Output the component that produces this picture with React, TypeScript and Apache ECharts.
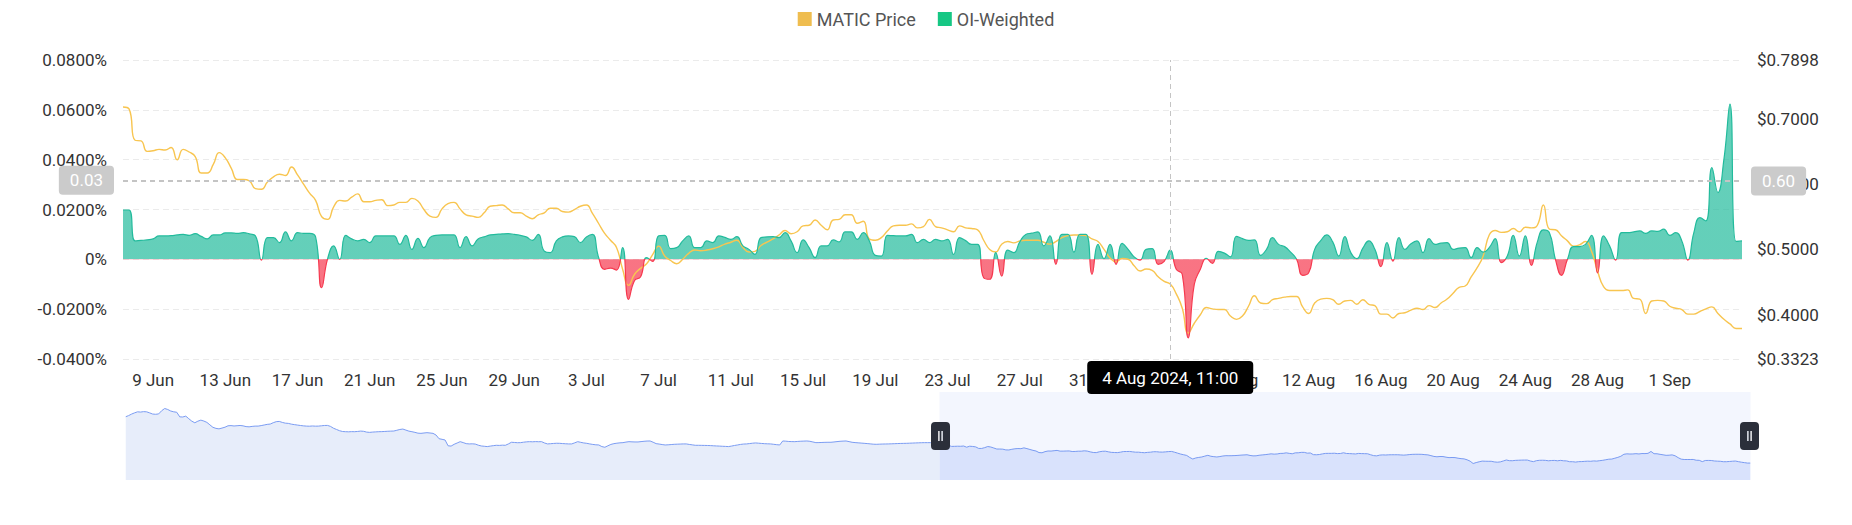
import { useEffect, useRef } from 'react';
import * as echarts from 'echarts';

// 8-hour buckets, first bucket 9 Mar 2024 11:00
const START_TIME = Date.UTC(2024, 2, 9, 11);
const STEP_MS = 8 * 3600 * 1000;
const MONTHS = ['Jan', 'Feb', 'Mar', 'Apr', 'May', 'Jun', 'Jul', 'Aug', 'Sep', 'Oct', 'Nov', 'Dec'];

// price before the zoom window (only visible in the slider)
const EARLY_PRICE = [
  1.131, 1.150, 1.175, 1.195, 1.212, 1.208, 1.215, 1.212, 1.195, 1.176,
  1.172, 1.178, 1.230, 1.266, 1.250, 1.225, 1.212, 1.205, 1.130, 1.128,
  1.142, 1.100, 1.060, 1.034, 1.060, 1.077, 1.062, 1.040, 1.000, 0.960,
  0.943, 0.935, 0.948, 0.962, 0.985, 0.988, 0.982, 0.986, 0.990, 0.984,
  0.972, 0.968, 0.975, 0.980, 0.980, 0.988, 0.998, 1.008, 1.013, 1.035,
  1.052, 1.056, 1.040, 1.028, 1.024, 1.012, 1.004, 0.997, 0.990, 0.984,
  0.980, 0.978, 0.982, 0.979, 0.980, 0.985, 0.990, 0.991, 0.975, 0.945,
  0.925, 0.905, 0.892, 0.889, 0.887, 0.890, 0.889, 0.893, 0.899, 0.895,
  0.882, 0.878, 0.883, 0.886, 0.889, 0.890, 0.893, 0.896, 0.898, 0.900,
  0.912, 0.925, 0.932, 0.915, 0.898, 0.889, 0.878, 0.865, 0.862, 0.868,
  0.873, 0.868, 0.862, 0.835, 0.775, 0.765, 0.754, 0.660, 0.655, 0.684,
  0.705, 0.727, 0.712, 0.695, 0.690, 0.692, 0.688, 0.670, 0.657, 0.652,
  0.647, 0.655, 0.662, 0.668, 0.666, 0.670, 0.668, 0.690, 0.717, 0.714,
  0.710, 0.711, 0.718, 0.724, 0.727, 0.725, 0.728, 0.726, 0.727, 0.705,
  0.690, 0.694, 0.698, 0.701, 0.700, 0.696, 0.693, 0.690, 0.690, 0.708,
  0.727, 0.716, 0.706, 0.700, 0.690, 0.682, 0.676, 0.673, 0.647, 0.636,
  0.660, 0.682, 0.695, 0.702, 0.708, 0.711, 0.720, 0.727, 0.724, 0.722,
  0.722, 0.728, 0.733, 0.737, 0.738, 0.718, 0.695, 0.688, 0.680, 0.673,
  0.676, 0.680, 0.684, 0.686, 0.688, 0.690, 0.690, 0.682, 0.675, 0.668,
  0.668, 0.667, 0.666, 0.665, 0.663, 0.660, 0.657, 0.655, 0.652, 0.650,
  0.647, 0.655, 0.665, 0.673, 0.682, 0.688, 0.690, 0.696, 0.702, 0.706,
  0.702, 0.698, 0.694, 0.692, 0.690, 0.684, 0.678, 0.673, 0.738, 0.735,
  0.730, 0.728, 0.727, 0.731, 0.734, 0.736, 0.738, 0.733, 0.722, 0.711,
  0.712, 0.714, 0.716, 0.717, 0.717, 0.722, 0.728, 0.733, 0.736, 0.738,
  0.728, 0.717, 0.712, 0.708, 0.704, 0.700, 0.696, 0.691, 0.686, 0.684,
  0.686, 0.688, 0.689, 0.690, 0.692, 0.694, 0.696, 0.698, 0.699, 0.700,
  0.702, 0.704, 0.706, 0.708, 0.710, 0.711, 0.711, 0.711, 0.713, 0.716,
];

// 7 Jun 11:00 -> 5 Sep 03:00
const PRICE = [
  0.718, 0.715, 0.667, 0.666, 0.650, 0.651, 0.653, 0.652, 0.656, 0.637,
  0.653, 0.649, 0.642, 0.617, 0.617, 0.630, 0.648, 0.640, 0.624, 0.607,
  0.607, 0.605, 0.593, 0.592, 0.603, 0.611, 0.615, 0.613, 0.626, 0.614,
  0.600, 0.586, 0.575, 0.550, 0.546, 0.565, 0.575, 0.574, 0.580, 0.585,
  0.573, 0.573, 0.575, 0.576, 0.567, 0.568, 0.572, 0.572, 0.578, 0.574,
  0.561, 0.551, 0.549, 0.562, 0.570, 0.572, 0.562, 0.553, 0.551, 0.549,
  0.556, 0.566, 0.567, 0.568, 0.562, 0.556, 0.556, 0.551, 0.547, 0.553,
  0.556, 0.563, 0.563, 0.558, 0.557, 0.561, 0.566, 0.568, 0.555, 0.540,
  0.525, 0.514, 0.503, 0.470, 0.445, 0.462, 0.471, 0.478, 0.492, 0.505,
  0.490, 0.483, 0.478, 0.485, 0.494, 0.499, 0.498, 0.499, 0.501, 0.504,
  0.508, 0.511, 0.514, 0.503, 0.496, 0.497, 0.506, 0.511, 0.516, 0.522,
  0.529, 0.524, 0.527, 0.536, 0.537, 0.545, 0.537, 0.530, 0.545, 0.546,
  0.553, 0.553, 0.540, 0.543, 0.516, 0.514, 0.518, 0.528, 0.536, 0.537,
  0.537, 0.539, 0.533, 0.535, 0.546, 0.535, 0.533, 0.530, 0.527, 0.536,
  0.533, 0.532, 0.530, 0.514, 0.500, 0.496, 0.508, 0.512, 0.510, 0.513,
  0.514, 0.514, 0.514, 0.511, 0.508, 0.512, 0.518, 0.521, 0.522, 0.522,
  0.521, 0.516, 0.512, 0.500, 0.487, 0.481, 0.486, 0.485, 0.475, 0.467,
  0.470, 0.468, 0.458, 0.451, 0.447, 0.432, 0.410, 0.372, 0.387, 0.400,
  0.411, 0.409, 0.408, 0.408, 0.398, 0.393, 0.398, 0.413, 0.429, 0.418,
  0.417, 0.423, 0.425, 0.427, 0.428, 0.428, 0.412, 0.402, 0.418, 0.424,
  0.425, 0.423, 0.416, 0.421, 0.422, 0.416, 0.423, 0.416, 0.414, 0.401,
  0.401, 0.395, 0.402, 0.403, 0.407, 0.410, 0.408, 0.414, 0.411, 0.418,
  0.424, 0.433, 0.442, 0.444, 0.458, 0.472, 0.490, 0.522, 0.529, 0.526,
  0.527, 0.532, 0.527, 0.534, 0.533, 0.537, 0.568, 0.531, 0.530, 0.521,
  0.513, 0.505, 0.507, 0.512, 0.497, 0.467, 0.443, 0.437, 0.437, 0.437,
  0.438, 0.425, 0.424, 0.402, 0.421, 0.422, 0.421, 0.413, 0.410, 0.408,
  0.401, 0.401, 0.405, 0.409, 0.412, 0.402, 0.393, 0.386, 0.379, 0.379,
];

// OI-weighted funding rate (%), same buckets as PRICE
const OI_WEIGHTED = [
  0.0198, 0.0198, 0.0074, 0.0076, 0.0078, 0.0082, 0.0094, 0.0094, 0.0095, 0.0098,
  0.0100, 0.0096, 0.0103, 0.0092, 0.0082, 0.0098, 0.0098, 0.0106, 0.0106, 0.0104,
  0.0107, 0.0102, 0.0094, -0.0003, 0.0087, 0.0087, 0.0067, 0.0110, 0.0074, 0.0107,
  0.0104, 0.0104, 0.0090, -0.0114, 0.0003, 0.0054, 0.0000, 0.0096, 0.0082, 0.0074,
  0.0080, 0.0067, 0.0094, 0.0094, 0.0094, 0.0094, 0.0060, 0.0096, 0.0040, 0.0084,
  0.0047, 0.0087, 0.0096, 0.0098, 0.0098, 0.0098, 0.0047, 0.0091, 0.0054, 0.0082,
  0.0090, 0.0098, 0.0100, 0.0102, 0.0103, 0.0100, 0.0096, 0.0090, 0.0076, 0.0100,
  0.0033, 0.0027, 0.0074, 0.0090, 0.0094, 0.0091, 0.0067, 0.0090, 0.0100, 0.0010,
  -0.0040, -0.0035, -0.0043, 0.0047, -0.0161, -0.0085, -0.0070, 0.0007, -0.0008, 0.0094,
  0.0096, 0.0043, 0.0047, 0.0074, 0.0094, 0.0047, 0.0047, 0.0074, 0.0067, 0.0094,
  0.0088, 0.0080, 0.0091, 0.0054, 0.0040, 0.0020, 0.0087, 0.0090, 0.0091, 0.0087,
  0.0107, 0.0074, 0.0027, 0.0078, 0.0047, 0.0007, 0.0054, 0.0054, 0.0078, 0.0070,
  0.0110, 0.0110, 0.0080, 0.0107, 0.0074, 0.0016, 0.0013, 0.0096, 0.0095, 0.0094,
  0.0094, 0.0100, 0.0067, 0.0080, 0.0067, 0.0080, 0.0074, 0.0080, 0.0020, 0.0087,
  0.0075, 0.0060, 0.0060, -0.0074, -0.0080, 0.0027, -0.0067, 0.0037, 0.0027, 0.0070,
  0.0100, 0.0105, 0.0110, 0.0054, 0.0094, -0.0020, 0.0100, 0.0100, 0.0029, 0.0100,
  0.0100, -0.0060, 0.0060, 0.0003, 0.0060, -0.0020, 0.0064, 0.0040, 0.0010, -0.0003,
  0.0040, 0.0043, -0.0020, -0.0008, 0.0037, -0.0040, -0.0060, -0.0315, -0.0100, -0.0040,
  0.0004, -0.0016, 0.0032, 0.0025, 0.0010, 0.0092, 0.0083, 0.0076, 0.0078, 0.0016,
  0.0040, 0.0087, 0.0060, 0.0051, 0.0029, 0.0000, -0.0064, -0.0054, 0.0040, 0.0075,
  0.0098, 0.0070, 0.0013, 0.0091, 0.0027, 0.0003, 0.0045, 0.0074, 0.0040, -0.0029,
  0.0067, -0.0007, 0.0087, 0.0040, 0.0063, 0.0074, 0.0027, 0.0083, 0.0060, 0.0065,
  0.0067, 0.0040, 0.0045, 0.0047, 0.0007, 0.0047, 0.0029, 0.0047, 0.0083, -0.0013,
  0.0013, 0.0096, 0.0013, 0.0094, -0.0024, 0.0070, 0.0118, 0.0107, 0.0000, -0.0064,
  0.0000, 0.0051, 0.0051, 0.0060, 0.0096, -0.0054, 0.0094, 0.0054, -0.0003, 0.0107,
  0.0107, 0.0110, 0.0114, 0.0104, 0.0114, 0.0112, 0.0121, 0.0096, 0.0107, 0.0074,
  -0.0003, 0.0107, 0.0167, 0.0154, 0.0368, 0.0268, 0.0402, 0.0623, 0.0072, 0.0074,
];

// crosshair shown in the screenshot: 4 Aug 2024, 11:00
const POINTER_OFFSET = 174;
const POINTER_RATE = 0.0317;
const POINTER_PRICE = 0.6047;

const priceAll = EARLY_PRICE.concat(PRICE);
const times = priceAll.map((_, i) => START_TIME + i * STEP_MS);
const categories = times.map((t) => String(t));
const fundingData = OI_WEIGHTED.map((v, k) => [EARLY_PRICE.length + k, v]);

const pad = (n: number) => (n < 10 ? '0' + n : String(n));
const fmtDay = (t: number) => {
  const d = new Date(t);
  return `${d.getUTCDate()} ${MONTHS[d.getUTCMonth()]}`;
};
const fmtFull = (t: number) => {
  const d = new Date(t);
  return `${d.getUTCDate()} ${MONTHS[d.getUTCMonth()]} ${d.getUTCFullYear()}, ${pad(d.getUTCHours())}:${pad(d.getUTCMinutes())}`;
};

const HANDLE =
  'path://M4,0 H15 A4,4 0 0 1 19,4 V24 A4,4 0 0 1 15,28 H4 A4,4 0 0 1 0,24 V4 A4,4 0 0 1 4,0 Z M7.2,9 V19 H8.6 V9 Z M10.4,9 V19 H11.8 V9 Z';

const FONT = 'Roboto, sans-serif';

export default function App() {
  const chartRef = useRef<HTMLDivElement>(null);

  useEffect(() => {
    document.body.style.margin = '0';
    if (!chartRef.current) return;
    const chart = echarts.init(chartRef.current, undefined, { renderer: 'svg' });

    const pointerLine = { color: '#c4c4c4', width: 1, type: [5, 4] };
    const grayLabel = {
      show: true,
      backgroundColor: '#cbcbcb',
      color: '#fff',
      fontSize: 17,
      fontFamily: FONT,
      padding: [6, 11],
      borderRadius: 4,
      margin: 9,
      formatter: (p: any) => Number(p.value).toFixed(2),
    };

    chart.setOption({
      animation: false,
      backgroundColor: '#fff',
      color: ['#efbd4f', '#16c784'],
      textStyle: { fontFamily: FONT },
      legend: {
        top: 5,
        left: 'center',
        icon: 'rect',
        itemWidth: 14,
        itemHeight: 14,
        itemGap: 22,
        textStyle: { color: '#555', fontSize: 18, fontFamily: FONT },
        data: ['MATIC Price', 'OI-Weighted'],
      },
      grid: { left: 123, right: 110, top: 60, bottom: 166 },
      xAxis: {
        type: 'category',
        data: categories,
        boundaryGap: false,
        axisLine: { show: false },
        axisTick: { show: false },
        splitLine: { show: false },
        axisLabel: {
          interval: (i: number) => i % 12 === 11,
          showMaxLabel: false,
          formatter: (v: string) => fmtDay(Number(v)),
          color: '#333',
          fontSize: 17,
          fontFamily: FONT,
          margin: 12,
        },
        axisPointer: {
          show: true,
          status: 'show',
          value: EARLY_PRICE.length + POINTER_OFFSET,
          type: 'line',
          snap: false,
          lineStyle: pointerLine,
          label: {
            show: true,
            backgroundColor: '#000',
            color: '#fff',
            fontSize: 17,
            fontFamily: FONT,
            padding: [8, 15],
            borderRadius: 4,
            margin: 2,
            formatter: (p: any) => fmtFull(Number(p.value)),
          },
        },
      },
      yAxis: [
        {
          type: 'value',
          min: -0.04,
          max: 0.08,
          interval: 0.02,
          axisLine: { show: false },
          axisTick: { show: false },
          axisLabel: {
            color: '#333',
            fontSize: 17,
            fontFamily: FONT,
            margin: 16,
            formatter: (v: number) => (Math.abs(v) < 1e-9 ? '0%' : v.toFixed(4) + '%'),
          },
          splitLine: { lineStyle: { color: '#ebebeb', type: [6, 4] } },
          axisPointer: { show: true, status: 'show', value: POINTER_RATE, type: 'line', lineStyle: pointerLine, label: grayLabel },
        },
        {
          type: 'value',
          position: 'right',
          min: 0.3323,
          max: 0.7898,
          axisLine: { show: false },
          axisTick: { show: false },
          splitLine: { show: false },
          axisLabel: {
            color: '#333',
            fontSize: 17,
            fontFamily: FONT,
            margin: 15,
            formatter: (v: number) => '$' + v.toFixed(4),
          },
          axisPointer: { show: true, status: 'show', value: POINTER_PRICE, type: 'line', lineStyle: pointerLine, label: grayLabel },
        },
      ],
      dataZoom: [
        {
          type: 'slider',
          xAxisIndex: 0,
          startValue: EARLY_PRICE.length,
          endValue: priceAll.length - 1,
          left: 123,
          right: 104,
          top: 392,
          height: 88,
          showDetail: false,
          brushSelect: false,
          moveHandleSize: 0,
          borderColor: 'transparent',
          backgroundColor: 'transparent',
          fillerColor: 'rgba(96,137,245,0.08)',
          dataBackground: {
            lineStyle: { color: '#7b9cf2', width: 1, opacity: 1 },
            areaStyle: { color: '#e7edfa', opacity: 1 },
          },
          selectedDataBackground: {
            lineStyle: { color: '#7b9cf2', width: 1, opacity: 1 },
            areaStyle: { color: '#e3eafd', opacity: 1 },
          },
          handleIcon: HANDLE,
          handleSize: 28,
          handleStyle: { color: '#2b2f3a', borderWidth: 0, borderColor: 'transparent' },
        },
      ],
      visualMap: {
        show: false,
        seriesIndex: 1,
        dimension: 1,
        pieces: [
          { gt: 0, lte: 1, color: '#22bb9c' },
          { gt: -1, lte: 0, color: '#f6394f' },
        ],
        outOfRange: { color: '#999' },
      },
      series: [
        {
          name: 'MATIC Price',
          type: 'line',
          yAxisIndex: 1,
          data: priceAll,
          smooth: true,
          symbol: 'none',
          z: 3,
          lineStyle: { color: '#f8c550', width: 1.4 },
        },
        {
          name: 'OI-Weighted',
          type: 'line',
          yAxisIndex: 0,
          data: fundingData,
          smooth: true,
          symbol: 'none',
          lineStyle: { width: 1.2 },
          areaStyle: { opacity: 0.7 },
        },
      ],
    });

    return () => {
      chart.dispose();
    };
  }, []);

  return <div ref={chartRef} style={{ width: 1852, height: 525 }} />;
}
